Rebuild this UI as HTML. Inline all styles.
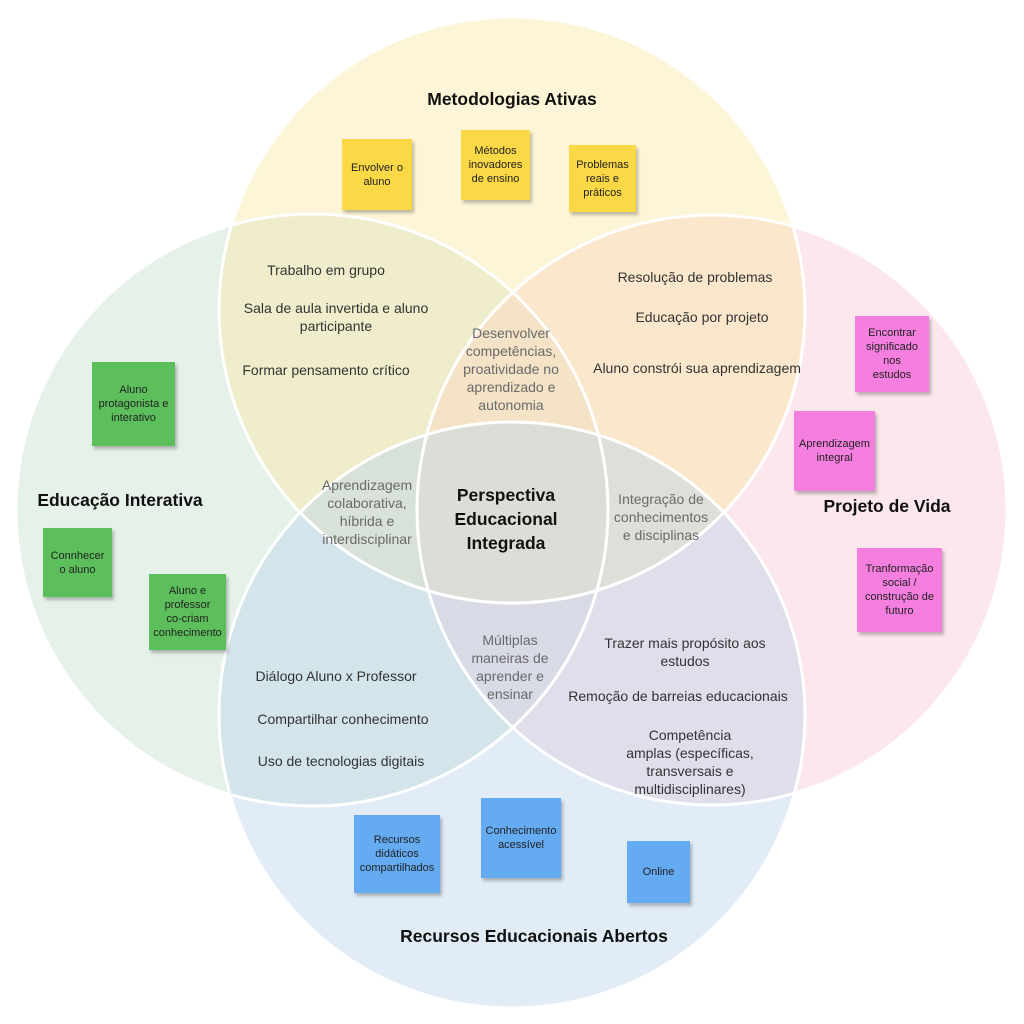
<!DOCTYPE html>
<html><head><meta charset="utf-8"><style>
body{margin:0;width:1024px;height:1024px;background:#fff;overflow:hidden;position:relative;font-family:"Liberation Sans",sans-serif}
svg{position:absolute;left:0;top:0}
.t{position:absolute;text-align:center;color:#333;font-size:14px;line-height:18px;white-space:nowrap;transform:translateX(-50%)}
.g{color:#6a6a6a}
.h{position:absolute;font-weight:bold;font-size:17.5px;color:#111;white-space:nowrap;transform:translateX(-50%)}
.n{position:absolute;display:flex;align-items:center;justify-content:center;text-align:center;font-size:11px;line-height:14px;color:#222;box-shadow:2px 3px 3px rgba(0,0,0,.25)}
.y{background:#fbd846}.gr{background:#5cbf5c}.p{background:#f47fdf}.b{background:#64abf2}
</style></head><body>
<svg width="1024" height="1024">
<g fill-opacity="0.45">
<circle cx="312" cy="510" r="296" fill="#c6e0cf"/>
<circle cx="712" cy="510" r="295" fill="#f9c9d4"/>
<circle cx="512" cy="310" r="293" fill="#fbe9a6"/>
<circle cx="512" cy="715" r="293" fill="#bcd5ea"/>
</g>
<g fill="none" stroke="#fff" stroke-width="3">
<circle cx="312" cy="510" r="296"/><circle cx="712" cy="510" r="295"/>
<circle cx="512" cy="310" r="293"/><circle cx="512" cy="715" r="293"/>
</g>
</svg>
<div class="h" style="left:512px;top:89px">Metodologias Ativas</div>
<div class="h" style="left:120px;top:490px">Educação Interativa</div>
<div class="h" style="left:887px;top:496px">Projeto de Vida</div>
<div class="h" style="left:534px;top:926px">Recursos Educacionais Abertos</div>
<div class="h" style="left:506px;top:483px;line-height:24px;text-align:center">Perspectiva<br>Educacional<br>Integrada</div>

<div class="t" style="left:326px;top:261px">Trabalho em grupo</div>
<div class="t" style="left:336px;top:299px">Sala de aula invertida e aluno<br>participante</div>
<div class="t" style="left:326px;top:361px">Formar pensamento crítico</div>
<div class="t" style="left:695px;top:268px">Resolução de problemas</div>
<div class="t" style="left:702px;top:308px">Educação por projeto</div>
<div class="t" style="left:697px;top:359px">Aluno constrói sua aprendizagem</div>
<div class="t g" style="left:511px;top:324px">Desenvolver<br>competências,<br>proatividade no<br>aprendizado e<br>autonomia</div>
<div class="t g" style="left:367px;top:476px">Aprendizagem<br>colaborativa,<br>híbrida e<br>interdisciplinar</div>
<div class="t g" style="left:661px;top:490px">Integração de<br>conhecimentos<br>e disciplinas</div>
<div class="t g" style="left:510px;top:631px">Múltiplas<br>maneiras de<br>aprender e<br>ensinar</div>
<div class="t" style="left:336px;top:667px">Diálogo Aluno x Professor</div>
<div class="t" style="left:343px;top:710px">Compartilhar conhecimento</div>
<div class="t" style="left:341px;top:752px">Uso de tecnologias digitais</div>
<div class="t" style="left:685px;top:634px">Trazer mais propósito aos<br>estudos</div>
<div class="t" style="left:678px;top:687px">Remoção de barreias educacionais</div>
<div class="t" style="left:690px;top:726px">Competência<br>amplas (específicas,<br>transversais e<br>multidisciplinares)</div>

<div class="n y" style="left:342px;top:139px;width:70px;height:71px">Envolver o<br>aluno</div>
<div class="n y" style="left:461px;top:130px;width:69px;height:70px">Métodos<br>inovadores<br>de ensino</div>
<div class="n y" style="left:569px;top:145px;width:67px;height:67px">Problemas<br>reais e<br>práticos</div>
<div class="n gr" style="left:92px;top:362px;width:83px;height:84px">Aluno<br>protagonista e<br>interativo</div>
<div class="n gr" style="left:43px;top:528px;width:69px;height:69px">Connhecer<br>o aluno</div>
<div class="n gr" style="left:149px;top:574px;width:77px;height:76px">Aluno e<br>professor<br>co-criam<br>conhecimento</div>
<div class="n p" style="left:855px;top:316px;width:74px;height:76px">Encontrar<br>significado<br>nos<br>estudos</div>
<div class="n p" style="left:794px;top:411px;width:81px;height:80px">Aprendizagem<br>integral</div>
<div class="n p" style="left:857px;top:548px;width:85px;height:84px">Tranformação<br>social /<br>construção de<br>futuro</div>
<div class="n b" style="left:354px;top:815px;width:86px;height:78px">Recursos<br>didáticos<br>compartilhados</div>
<div class="n b" style="left:481px;top:798px;width:80px;height:80px">Conhecimento<br>acessível</div>
<div class="n b" style="left:627px;top:841px;width:63px;height:62px">Online</div>
</body></html>
